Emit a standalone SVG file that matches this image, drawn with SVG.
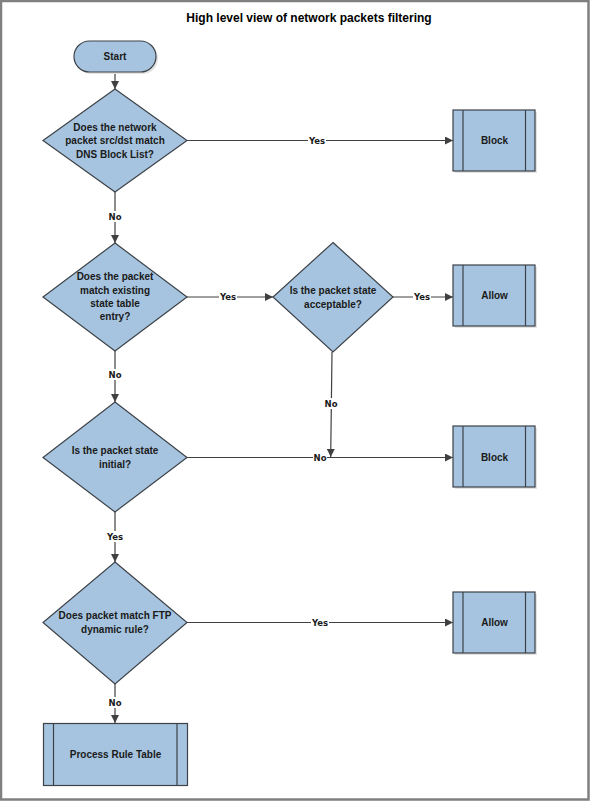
<svg xmlns="http://www.w3.org/2000/svg" width="590" height="801" viewBox="0 0 590 801">
<style>
.shape{fill:#a6c4df;stroke:#3d4248;stroke-width:1.2}
.shadow{fill:#e3e3e3;stroke:none}
.inner{stroke:#3d4248;stroke-width:1.2;fill:none}
.txt{font-family:"Liberation Sans",Arial,sans-serif;font-weight:bold;font-size:10px;fill:#1a1a1a;text-anchor:middle}
.title{font-family:"Liberation Sans",Arial,sans-serif;font-weight:bold;font-size:12px;fill:#000;text-anchor:middle}
.edge{stroke:#404040;stroke-width:1.2;fill:none}
.lbl{font-family:"DejaVu Sans",Verdana,sans-serif;font-weight:bold;font-size:8.5px;fill:#1a1a1a;text-anchor:middle}
.lblbg{fill:#fff}
</style>
<defs>
<marker id="arr" viewBox="0 0 10 10" refX="10" refY="5" markerWidth="8" markerHeight="8" markerUnits="userSpaceOnUse" orient="auto">
<path d="M0,0 L10,5 L0,10 Z" fill="#404040"/>
</marker>
</defs>
<rect x="0" y="0" width="590" height="801" fill="#fff"/>
<rect x="1" y="1" width="587.5" height="798.5" fill="none" stroke="#808080" stroke-width="2.5"/>
<text class="title" x="309" y="22">High level view of network packets filtering</text>

<g id="connectors">
<line class="edge" x1="115" y1="72" x2="115" y2="89" marker-end="url(#arr)"/>
<line class="edge" x1="187" y1="140.5" x2="453" y2="140.5" marker-end="url(#arr)"/>
<line class="edge" x1="115" y1="192" x2="115" y2="243" marker-end="url(#arr)"/>
<line class="edge" x1="187" y1="297" x2="273" y2="297" marker-end="url(#arr)"/>
<line class="edge" x1="393" y1="297" x2="453" y2="297" marker-end="url(#arr)"/>
<line class="edge" x1="115" y1="351" x2="115" y2="402" marker-end="url(#arr)"/>
<line class="edge" x1="332" y1="352" x2="330.7" y2="457" marker-end="url(#arr)"/>
<line class="edge" x1="187" y1="457.5" x2="453" y2="457.5" marker-end="url(#arr)"/>
<line class="edge" x1="115" y1="512" x2="115" y2="562" marker-end="url(#arr)"/>
<line class="edge" x1="187" y1="622.5" x2="453" y2="622.5" marker-end="url(#arr)"/>
<line class="edge" x1="115" y1="684" x2="115" y2="723" marker-end="url(#arr)"/>
<rect class="lblbg" x="308" y="135" width="18" height="11"/>
<text class="lbl" x="317" y="143.5">Yes</text>
<rect class="lblbg" x="108" y="211" width="14" height="11"/>
<text class="lbl" x="115" y="219.5">No</text>
<rect class="lblbg" x="219" y="291.5" width="18" height="11"/>
<text class="lbl" x="228" y="300">Yes</text>
<rect class="lblbg" x="413" y="291.5" width="18" height="11"/>
<text class="lbl" x="422" y="300">Yes</text>
<rect class="lblbg" x="108" y="369" width="14" height="11"/>
<text class="lbl" x="115" y="377.5">No</text>
<rect class="lblbg" x="324" y="398" width="14" height="11"/>
<text class="lbl" x="331" y="406.5">No</text>
<rect class="lblbg" x="313" y="452" width="14" height="11"/>
<text class="lbl" x="320" y="460.5">No</text>
<rect class="lblbg" x="106" y="531" width="18" height="11"/>
<text class="lbl" x="115" y="539.5">Yes</text>
<rect class="lblbg" x="311" y="617" width="18" height="11"/>
<text class="lbl" x="320" y="625.5">Yes</text>
<rect class="lblbg" x="108" y="697" width="14" height="11"/>
<text class="lbl" x="115" y="705.5">No</text>
</g>

<g id="start">
<rect class="shadow" x="76" y="43" width="82" height="31" rx="15.5"/>
<rect class="shape" x="74" y="41" width="82" height="31" rx="15.5"/>
<text class="txt" x="115" y="60">Start</text>
</g>

<g id="dns-check">
<polygon class="shape" points="115,89 187,140.5 115,192 43,140.5"/>
<text class="txt" x="115" y="131">Does the network</text>
<text class="txt" x="115" y="144">packet src/dst match</text>
<text class="txt" x="115" y="157.5">DNS Block List?</text>
</g>

<g id="block1">
<rect class="shadow" x="455" y="112" width="82" height="61"/>
<rect class="shape" x="453" y="110" width="82" height="61"/>
<line class="inner" x1="463" y1="110" x2="463" y2="171"/>
<line class="inner" x1="525.5" y1="110" x2="525.5" y2="171"/>
<text class="txt" x="494.5" y="144">Block</text>
</g>

<g id="state-table-check">
<polygon class="shape" points="115,243 187,297 115,351 43,297"/>
<text class="txt" x="115" y="280">Does the packet</text>
<text class="txt" x="115" y="293.5">match existing</text>
<text class="txt" x="115" y="307">state table</text>
<text class="txt" x="115" y="320">entry?</text>
</g>

<g id="acceptable-check">
<polygon class="shape" points="333,242.5 393,297 333,352 273,297"/>
<text class="txt" x="333" y="294">Is the packet state</text>
<text class="txt" x="333" y="307.5">acceptable?</text>
</g>

<g id="allow1">
<rect class="shadow" x="455" y="267" width="82" height="61"/>
<rect class="shape" x="453" y="265" width="82" height="61"/>
<line class="inner" x1="463" y1="265" x2="463" y2="326"/>
<line class="inner" x1="525.5" y1="265" x2="525.5" y2="326"/>
<text class="txt" x="494.5" y="299">Allow</text>
</g>

<g id="initial-check">
<polygon class="shape" points="115,402 187,457.5 115,512 43,457.5"/>
<text class="txt" x="115" y="454">Is the packet state</text>
<text class="txt" x="115" y="467.5">initial?</text>
</g>

<g id="block2">
<rect class="shadow" x="455" y="428" width="82" height="61"/>
<rect class="shape" x="453" y="426" width="82" height="61"/>
<line class="inner" x1="463" y1="426" x2="463" y2="487"/>
<line class="inner" x1="525.5" y1="426" x2="525.5" y2="487"/>
<text class="txt" x="494.5" y="460.5">Block</text>
</g>

<g id="ftp-check">
<polygon class="shape" points="115,562 187,622.5 115,684 43,622.5"/>
<text class="txt" x="115" y="619">Does packet match FTP</text>
<text class="txt" x="115" y="632.5">dynamic rule?</text>
</g>

<g id="allow2">
<rect class="shadow" x="455" y="594" width="82" height="61"/>
<rect class="shape" x="453" y="592" width="82" height="61"/>
<line class="inner" x1="463" y1="592" x2="463" y2="653"/>
<line class="inner" x1="525.5" y1="592" x2="525.5" y2="653"/>
<text class="txt" x="494.5" y="626">Allow</text>
</g>

<g id="process-rule-table">
<rect class="shape" x="43.5" y="723.5" width="144" height="62"/>
<line class="inner" x1="53.5" y1="723.5" x2="53.5" y2="785.5"/>
<line class="inner" x1="177" y1="723.5" x2="177" y2="785.5"/>
<text class="txt" x="115.5" y="757.5">Process Rule Table</text>
</g>
</svg>
